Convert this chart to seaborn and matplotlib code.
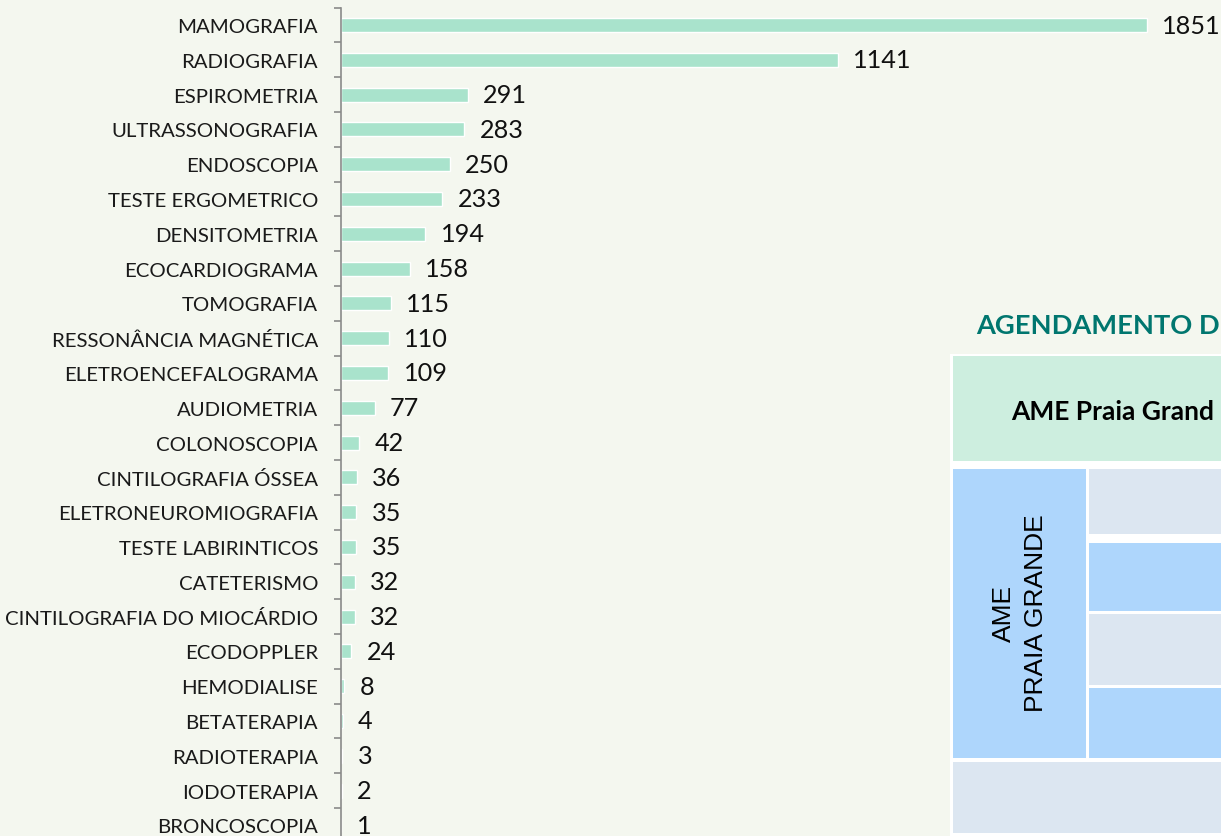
import matplotlib
matplotlib.use("Agg")
import matplotlib.pyplot as plt
import seaborn as sns
import pandas as pd
from matplotlib.patches import Rectangle

categories = ["MAMOGRAFIA", "RADIOGRAFIA", "ESPIROMETRIA", "ULTRASSONOGRAFIA",
              "ENDOSCOPIA", "TESTE ERGOMETRICO", "DENSITOMETRIA", "ECOCARDIOGRAMA",
              "TOMOGRAFIA", "RESSONÂNCIA MAGNÉTICA", "ELETROENCEFALOGRAMA",
              "AUDIOMETRIA", "COLONOSCOPIA", "CINTILOGRAFIA ÓSSEA",
              "ELETRONEUROMIOGRAFIA", "TESTE LABIRINTICOS", "CATETERISMO",
              "CINTILOGRAFIA DO MIOCÁRDIO", "ECODOPPLER", "HEMODIALISE",
              "BETATERAPIA", "RADIOTERAPIA", "IODOTERAPIA", "BRONCOSCOPIA"]
values = [1851, 1141, 291, 283, 250, 233, 194, 158, 115, 110, 109, 77, 42, 36,
          35, 35, 32, 32, 24, 8, 4, 3, 2, 1]

overlay_title = "AGENDAMENTO D"
overlay_header = "AME Praia Grand"
overlay_side = "AME\nPRAIA GRANDE"

BG = "#F4F7EF"
BAR = "#A9E3CC"
AXC = "#8A8A8A"

sns.set_theme(style="white")
plt.rcParams["font.family"] = ["Lato", "DejaVu Sans"]

W, H = 1221, 837
fig = plt.figure(figsize=(W / 100, H / 100), dpi=100, facecolor=BG)

n = len(categories)
step = 34.8
top_px = 26 - step / 2
ax_h = n * step
ax = fig.add_axes([341 / W, (H - (top_px + ax_h)) / H, (W - 341) / W, ax_h / H])
ax.set_facecolor("none")

df = pd.DataFrame({"cat": categories, "val": values})
sns.barplot(data=df, y="cat", x="val", orient="h", color=BAR, saturation=1,
            width=0.40, ax=ax)

ax.set_xlim(0, (W - 341) / 0.4355)
ax.set_ylim(n - 0.5, -0.5)
ax.set_xlabel("")
ax.set_ylabel("")
ax.set_xticks([])
for s in ["top", "right", "bottom"]:
    ax.spines[s].set_visible(False)
ax.spines["left"].set_color(AXC)
ax.spines["left"].set_linewidth(1.2)

ax.set_yticks(range(n))
ax.set_yticklabels(categories, fontsize=14.7, color="#1a1a1a")
ax.tick_params(axis="y", which="major", length=0, pad=16.5)
ax.set_yticks([i - 0.5 for i in range(n + 1)], minor=True)
ax.tick_params(axis="y", which="minor", left=True, length=5, width=1.2,
               color=AXC, direction="out")

for c in ax.containers:
    ax.bar_label(c, labels=[str(v) for v in values], padding=11,
                 fontsize=18.2, color="#111111")

# overlay panel drawn in pixel coordinates
ov = fig.add_axes([0, 0, 1, 1], zorder=5)
ov.set_xlim(0, W)
ov.set_ylim(H, 0)
ov.axis("off")
ov.patch.set_alpha(0)

def rect(x0, y0, x1, y1, color):
    ov.add_patch(Rectangle((x0, y0), x1 - x0, y1 - y0, facecolor=color,
                           edgecolor="none"))

rect(950, 355, W, H, "white")
rect(953, 357, W, 462, "#CDEEDF")
rect(953, 470, 1086, 759, "#AED6FC")
rect(1089, 470, W, 535, "#DCE6F1")
rect(1089, 544, W, 612, "#AED6FC")
rect(1089, 615, W, 686, "#DCE6F1")
rect(1089, 689, W, 759, "#AED6FC")
rect(953, 763, W, 834, "#DCE6F1")

ov.text(976, 326, overlay_title, fontsize=19.6, fontweight="bold", color="#00766F",
        ha="left", va="center")
ov.text(1011, 412, overlay_header, fontsize=19, fontweight="bold", color="black",
        ha="left", va="center")
ov.text(1020, 613, overlay_side, fontsize=19, rotation=90, color="black",
        ha="center", va="center", multialignment="center", linespacing=1.4,
        family=["Liberation Sans", "DejaVu Sans"])

fig.savefig("out.png", dpi=100, facecolor=BG)
